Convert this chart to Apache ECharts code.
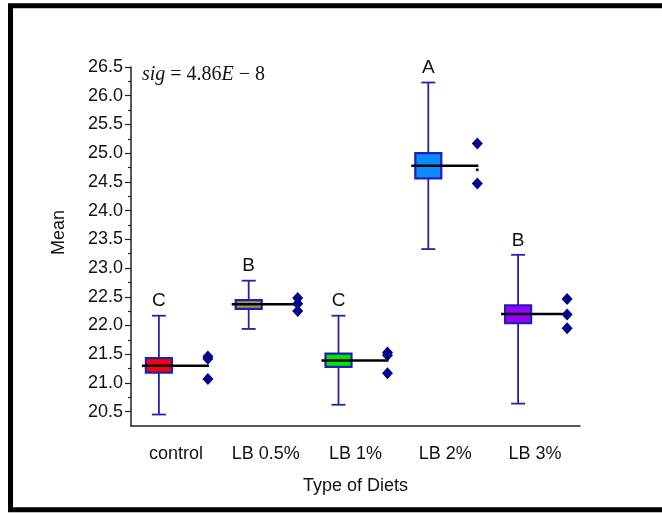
<!DOCTYPE html>
<html>
<head>
<meta charset="utf-8">
<script src="https://cdn.jsdelivr.net/npm/echarts@6/dist/echarts.min.js"></script>
<style>
  html, body { margin: 0; padding: 0; background: #fff; }
  #chart { width: 662px; height: 514px; }
</style>
</head>
<body>
<div id="chart"></div>
<script>
// data
const categories = ['control', 'LB 0.5%', 'LB 1%', 'LB 2%', 'LB 3%'];
const whiskerLow = [20.45, 21.94, 20.62, 23.33, 20.64];
const boxLow = [21.18, 22.29, 21.28, 24.56, 22.04];
const means = [21.30, 22.37, 21.39, 24.78, 22.20];
const boxHigh = [21.43, 22.44, 21.51, 25.00, 22.35];
const whiskerHigh = [22.17, 22.78, 22.17, 26.23, 23.23];
const letters = ['C', 'B', 'C', 'A', 'B'];
const replicates = [
  [21.46, 21.42, 21.07],
  [22.48, 22.38, 22.25],
  [21.53, 21.48, 21.17],
  [25.17, 24.47],
  [22.46, 22.19, 21.95]
];
const hiddenPoints = [[3, 24.71]];
const yTicks = [20.5, 21.0, 21.5, 22.0, 22.5, 23.0, 23.5, 24.0, 24.5, 25.0, 25.5, 26.0, 26.5];
const yMinorTicks = [20.75, 21.25, 21.75, 22.25, 22.75, 23.25, 23.75, 24.25, 24.75, 25.25, 25.75, 26.25];

const boxColors = ['#ff0000', '#a8983c', '#00e600', '#0a8cff', '#9a00ff'];

const boxData = categories.map((c, i) => [i, whiskerLow[i], boxLow[i], means[i], boxHigh[i], whiskerHigh[i]]);
const pointData = [];
replicates.forEach((vals, i) => vals.forEach(v => pointData.push([i, v])));

function renderBox(params, api) {
  const i = api.value(0);
  const base = api.coord([i, api.value(3)]);
  const cx = base[0] - 17;
  const yWl = api.coord([i, api.value(1)])[1];
  const yBl = api.coord([i, api.value(2)])[1];
  const yM = base[1];
  const yBh = api.coord([i, api.value(4)])[1];
  const yWh = api.coord([i, api.value(5)])[1];
  const blue = '#2424a8';
  return {
    type: 'group',
    children: [
      { type: 'line', shape: { x1: cx, y1: yWh, x2: cx, y2: yWl }, style: { stroke: blue, lineWidth: 1.8 } },
      { type: 'line', shape: { x1: cx - 7, y1: yWh, x2: cx + 7, y2: yWh }, style: { stroke: blue, lineWidth: 1.8 } },
      { type: 'line', shape: { x1: cx - 7, y1: yWl, x2: cx + 7, y2: yWl }, style: { stroke: blue, lineWidth: 1.8 } },
      { type: 'rect', shape: { x: cx - 13, y: yBh, width: 26, height: yBl - yBh },
        style: { fill: boxColors[params.dataIndex], stroke: '#2020b8', lineWidth: 2.2 } },
      { type: 'line', shape: { x1: base[0] - 34, y1: yM, x2: base[0] + 33, y2: yM }, style: { stroke: '#000', lineWidth: 2.5 } },
      { type: 'text', style: { text: letters[params.dataIndex], x: cx, y: yWh - 5, align: 'center', verticalAlign: 'bottom',
        fontSize: 19, fontFamily: 'Liberation Sans', fill: '#111' } }
    ]
  };
}

const chart = echarts.init(document.getElementById('chart'));
chart.setOption({
  animation: false,
  backgroundColor: '#fff',
  grid: { left: 131, right: 82, top: 67, bottom: 88 },
  xAxis: {
    type: 'category',
    data: categories,
    boundaryGap: true,
    axisLine: { lineStyle: { color: '#222', width: 1.5 } },
    axisTick: { alignWithLabel: true, length: 6, lineStyle: { color: '#222', width: 1.5 } },
    axisLabel: { fontSize: 18, color: '#111', margin: 19, fontFamily: 'Liberation Sans' },
    name: 'Type of Diets',
    nameLocation: 'middle',
    nameGap: 51,
    nameTextStyle: { fontSize: 18, color: '#111', fontFamily: 'Liberation Sans' }
  },
  yAxis: [{
    type: 'value',
    min: 20.25,
    max: 26.5,
    position: 'left',
    axisLine: { show: true, lineStyle: { color: '#222', width: 1.5 } },
    axisTick: { show: true, length: 6, customValues: yTicks, lineStyle: { color: '#222', width: 1.2 } },
    axisLabel: { customValues: yTicks, formatter: v => v.toFixed(1), fontSize: 18, color: '#111', margin: 8, fontFamily: 'Liberation Sans' },
    splitLine: { show: false },
    name: 'Mean',
    nameLocation: 'middle',
    nameGap: 63,
    nameTextStyle: { fontSize: 18, color: '#111', fontFamily: 'Liberation Sans', padding: [0, 0, 0, 28] }
  }, {
    type: 'value',
    min: 20.25,
    max: 26.5,
    position: 'left',
    axisLine: { show: false },
    axisTick: { show: true, length: 3, customValues: yMinorTicks, lineStyle: { color: '#222', width: 1.2 } },
    axisLabel: { show: false },
    splitLine: { show: false }
  }],
  series: [{
    type: 'custom',
    renderItem: renderBox,
    data: boxData,
    encode: { x: 0, y: [1, 2, 3, 4, 5] },
    z: 2
  }, {
    type: 'scatter',
    data: pointData,
    symbol: 'diamond',
    symbolSize: [11, 12],
    symbolOffset: [32, 0],
    itemStyle: { color: '#00008b', opacity: 1 },
    z: 3
  }, {
    type: 'scatter',
    data: hiddenPoints,
    symbol: 'circle',
    symbolSize: 3,
    symbolOffset: [32, 0],
    itemStyle: { color: '#00008b', opacity: 1 },
    z: 3
  }],
  graphic: [{
    type: 'rect',
    shape: { x: 10.5, y: 5.8, width: 700, height: 504 },
    style: { fill: 'none', stroke: '#000', lineWidth: 5 },
    silent: true
  }, {
    type: 'text',
    left: 142,
    top: 65,
    style: {
      text: '{i|sig} = 4.86{i|E} − 8',
      fontSize: 20,
      fontFamily: 'Liberation Serif',
      fill: '#111',
      rich: { i: { fontStyle: 'italic', fontSize: 20, fontFamily: 'Liberation Serif' } }
    }
  }]
});
</script>
</body>
</html>
